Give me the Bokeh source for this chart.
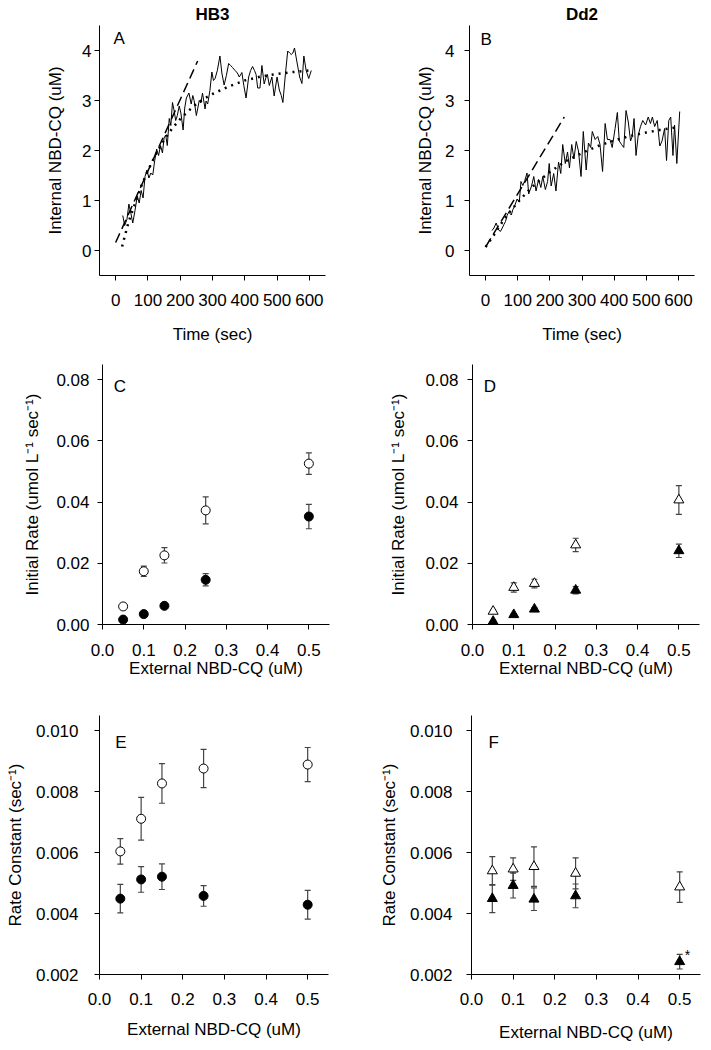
from bokeh.plotting import figure
from bokeh.layouts import column, row
from bokeh.models import (ColumnDataSource, Whisker, TeeHead, Label, FixedTicker,
                          PrintfTickFormatter, Range1d, Title)
from bokeh.embed import file_html
from bokeh.resources import INLINE

FONT = "Liberation Sans"

# ---------------- Panel A (HB3 uptake trace) ----------------
hb3_time = [22, 28, 35, 41, 47, 53, 60, 67, 73, 79, 85, 91, 97, 103, 109, 115, 121, 127, 133,
            139, 145, 150, 155, 160, 166, 171, 176, 181, 186, 191, 197, 202, 209, 214, 219, 227,
            234, 239, 243, 250, 259, 264, 269, 277, 280, 285, 292, 298, 303, 308, 315, 323, 329,
            336, 343, 350, 356, 362, 370, 377, 383, 391, 397, 404, 412, 418, 424, 430, 435, 440,
            447, 453, 460, 465, 470, 476, 484, 491, 500, 507, 513, 518, 526, 533, 539, 544, 549,
            554, 561, 570, 577, 583, 590, 598, 606]
hb3_signal = [0.70, 0.50, 0.62, 0.93, 0.75, 0.55, 0.80, 1.09, 0.95, 1.20, 1.05, 1.48, 1.61, 1.45,
              1.55, 1.51, 1.80, 2.03, 1.90, 2.10, 1.95, 2.25, 2.31, 2.10, 2.64, 2.50, 2.96, 2.80,
              2.60, 2.70, 2.89, 2.75, 2.41, 2.85, 3.05, 3.15, 2.93, 3.10, 3.00, 2.70, 3.00, 2.95,
              3.15, 2.83, 2.99, 2.93, 3.20, 3.57, 3.40, 3.44, 3.60, 3.89, 3.55, 3.31, 3.50, 3.74,
              3.70, 3.66, 3.60, 3.55, 3.47, 3.56, 3.30, 3.05, 3.47, 3.60, 3.68, 3.60, 3.52, 3.25,
              3.25, 3.70, 3.33, 3.45, 3.52, 3.30, 3.47, 3.09, 3.47, 3.21, 3.10, 2.96, 3.54, 3.99,
              3.95, 3.92, 3.95, 4.05, 3.79, 3.47, 3.34, 3.89, 3.60, 3.44, 3.60]
hb3_fit_time = [20, 40, 60, 80, 100, 125, 150, 175, 200, 225, 250, 275, 300, 350, 400, 450, 500, 550, 600]
hb3_fit = [0.08, 0.57, 0.94, 1.30, 1.60, 1.93, 2.21, 2.44, 2.63, 2.79, 2.93, 3.04, 3.13, 3.28,
           3.40, 3.48, 3.53, 3.57, 3.60]
hb3_init_time = [0, 254]
hb3_init = [0.16, 3.79]

# ---------------- Panel B (Dd2 uptake trace) ----------------
dd2_time = [20, 26, 33, 40, 46, 52, 57, 62, 67, 72, 80, 85, 91, 98, 105, 110, 116, 122, 129, 134,
            143, 150, 157, 165, 172, 178, 186, 193, 198, 204, 212, 219, 227, 234, 240, 248, 255,
            261, 268, 275, 282, 289, 297, 304, 313, 320, 327, 332, 341, 349, 356, 364, 372, 379,
            387, 394, 403, 410, 416, 423, 430, 437, 444, 451, 456, 462, 468, 475, 482, 489, 498,
            506, 513, 519, 526, 534, 542, 549, 557, 563, 570, 576, 583, 588, 595, 604]
dd2_signal = [0.40, 0.45, 0.55, 0.42, 0.38, 0.45, 0.52, 0.58, 0.70, 0.77, 0.71, 0.82, 0.90, 1.03,
              0.97, 1.38, 1.30, 1.40, 1.55, 1.13, 1.29, 1.48, 1.19, 1.42, 1.26, 1.48, 1.22, 1.38,
              1.74, 1.29, 1.54, 1.19, 1.77, 1.54, 2.12, 1.74, 1.97, 1.65, 2.12, 1.83, 2.18, 1.99,
              1.48, 2.38, 1.61, 2.15, 2.06, 2.38, 2.22, 2.28, 2.12, 1.58, 2.54, 2.22, 2.22, 2.06,
              2.44, 2.76, 2.19, 2.12, 2.06, 2.80, 2.57, 2.19, 2.28, 2.64, 1.90, 2.31, 2.48, 2.60,
              2.51, 2.67, 2.54, 2.67, 2.48, 2.60, 2.09, 2.19, 2.44, 1.80, 2.60, 2.67, 1.90, 2.51,
              1.74, 2.78]
dd2_fit_time = [0, 25, 50, 75, 100, 125, 150, 175, 200, 250, 300, 350, 400, 450, 500, 550, 600]
dd2_fit = [0.07, 0.30, 0.55, 0.77, 0.96, 1.14, 1.30, 1.44, 1.57, 1.79, 1.95, 2.09, 2.20, 2.29,
           2.36, 2.42, 2.47]
dd2_init_time = [0, 245]
dd2_init = [0.07, 2.67]

# ---------------- Panels C-F ----------------
conc = [0.05, 0.10, 0.15, 0.25, 0.50]

hb3_rate_open = [0.0059, 0.0174, 0.0226, 0.0373, 0.0526]
hb3_rate_open_err = [0.0004, 0.0017, 0.0025, 0.0044, 0.0035]
hb3_rate_filled = [0.0016, 0.0034, 0.0061, 0.0146, 0.0353]
hb3_rate_filled_err = [0.0003, 0.0004, 0.0005, 0.0020, 0.0040]

dd2_rate_open = [0.0043, 0.0121, 0.0134, 0.0260, 0.0407]
dd2_rate_open_err = [0.0004, 0.0015, 0.0014, 0.0022, 0.0047]
dd2_rate_filled = [0.0010, 0.0032, 0.0050, 0.0112, 0.0241]
dd2_rate_filled_err = [0.0003, 0.0004, 0.0005, 0.0012, 0.0022]

hb3_k_open = [0.00604, 0.00711, 0.00827, 0.00876, 0.00889]
hb3_k_open_err = [0.00042, 0.00070, 0.00065, 0.00063, 0.00056]
hb3_k_filled = [0.00449, 0.00512, 0.00521, 0.00458, 0.00429]
hb3_k_filled_err = [0.00047, 0.00042, 0.00042, 0.00034, 0.00047]

dd2_k_open = [0.00540, 0.00546, 0.00554, 0.00532, 0.00487]
dd2_k_open_err = [0.00047, 0.00037, 0.00065, 0.00051, 0.00050]
dd2_k_filled = [0.00449, 0.00492, 0.00447, 0.00458, 0.00242]
dd2_k_filled_err = [0.00046, 0.00041, 0.00037, 0.00039, 0.00024]

time_ticks = [0, 100, 200, 300, 400, 500, 600]
conc_ticks = [0.0, 0.1, 0.2, 0.3, 0.4, 0.5]
rate_ticks = [0.00, 0.02, 0.04, 0.06, 0.08]
k_ticks = [0.002, 0.004, 0.006, 0.008, 0.010]
trace_ticks = [0, 1, 2, 3, 4]

RATE_LABEL = "Initial Rate (umol L\u207b\u00b9 sec\u207b\u00b9)"
K_LABEL = "Rate Constant (sec\u207b\u00b9)"
CONC_LABEL = "External NBD-CQ (uM)"


def make_fig(width, height, bl, br, bt, bb, xr, yr, xticks, yticks, xfmt, yfmt,
             xlabel, ylabel, xls, xals, yls, yals):
    p = figure(width=width, height=height, x_range=Range1d(*xr), y_range=Range1d(*yr),
               output_backend="svg", toolbar_location=None,
               min_border_left=bl, min_border_right=br, min_border_top=bt, min_border_bottom=bb)
    p.outline_line_color = None
    p.grid.visible = False
    p.background_fill_color = "white"
    p.border_fill_color = "white"
    p.xaxis.ticker = FixedTicker(ticks=xticks)
    p.yaxis.ticker = FixedTicker(ticks=yticks)
    if xfmt:
        p.xaxis.formatter = PrintfTickFormatter(format=xfmt)
    if yfmt:
        p.yaxis.formatter = PrintfTickFormatter(format=yfmt)
    p.xaxis.axis_label = xlabel
    p.yaxis.axis_label = ylabel
    for ax in (p.xaxis[0], p.yaxis[0]):
        ax.axis_line_color = "black"
        ax.axis_line_width = 1
        ax.major_tick_line_color = "black"
        ax.major_tick_out = 5
        ax.major_tick_in = 0
        ax.minor_tick_line_color = None
        ax.major_label_text_font = FONT
        ax.major_label_text_font_size = "17px"
        ax.major_label_text_color = "black"
        ax.axis_label_text_font = FONT
        ax.axis_label_text_font_size = "17px"
        ax.axis_label_text_font_style = "normal"
        ax.axis_label_text_color = "black"
    p.xaxis.major_label_standoff = xls
    p.xaxis.axis_label_standoff = xals
    p.yaxis.major_label_standoff = yls
    p.yaxis.axis_label_standoff = yals
    return p


def add_title(p, text, offset):
    p.add_layout(Title(text=text, align="center", text_font=FONT, text_font_size="17px",
                       text_font_style="bold", text_color="black", standoff=4, offset=offset),
                 "above")


def add_letter(p, x, y, text, size="17px", style="normal", align="left"):
    p.add_layout(Label(x=x, y=y, text=text, text_font=FONT, text_font_size=size,
                       text_font_style=style, text_align=align, text_baseline="middle",
                       text_color="black"))


def trace_panel(p, t, s, ft, f, it, iv):
    p.line(t, s, line_color="black", line_width=1)
    p.line(it, iv, line_color="black", line_width=1.5, line_dash="10 5")
    p.line(ft, f, line_color="black", line_width=2.5, line_dash="2 5")


def points(p, x, y, err, marker, filled, size):
    src = ColumnDataSource(dict(x=x, y=y, lower=[a - b for a, b in zip(y, err)],
                                upper=[a + b for a, b in zip(y, err)]))
    w = Whisker(base="x", upper="upper", lower="lower", source=src,
                line_color="#444444", line_width=1.2,
                upper_head=TeeHead(size=6, line_color="#444444", line_width=1.2),
                lower_head=TeeHead(size=6, line_color="#444444", line_width=1.2))
    p.add_layout(w)
    p.scatter("x", "y", source=src, marker=marker, size=size, line_color="black",
              line_width=1, fill_color="black" if filled else "white")


# Row 1 (page y 0-346)
pA = make_fig(360, 346, 99, 35, 24, 63, (-50, 650), (-0.5, 4.5), time_ticks, trace_ticks,
              None, None, "Time (sec)", "Internal NBD-CQ (uM)", 13, 16, 3, 14)
trace_panel(pA, hb3_time, hb3_signal, hb3_fit_time, hb3_fit, hb3_init_time, hb3_init)
add_letter(pA, -7, 4.25, "A")
add_title(pA, "HB3", 0)

pB = make_fig(351, 346, 109, 17, 24, 63, (-50, 650), (-0.5, 4.5), time_ticks, trace_ticks,
              None, None, "Time (sec)", "Internal NBD-CQ (uM)", 13, 16, 10, 7)
trace_panel(pB, dd2_time, dd2_signal, dd2_fit_time, dd2_fit, dd2_init_time, dd2_init)
add_letter(pB, -16, 4.23, "B")
add_title(pB, "Dd2", -18)

# Row 2 (page y 346-690)
pC = make_fig(360, 344, 102, 31, 18, 66, (0, 0.55), (0, 0.085), conc_ticks, rate_ticks,
              "%.1f", "%.2f", CONC_LABEL, RATE_LABEL, 14, 0, 8, 11)
points(pC, conc, hb3_rate_open, hb3_rate_open_err, "circle", False, 9)
points(pC, conc, hb3_rate_filled, hb3_rate_filled_err, "circle", True, 9)
add_letter(pC, 0.027, 0.0777, "C")

pD = make_fig(351, 344, 112, 12, 18, 66, (0, 0.55), (0, 0.085), conc_ticks, rate_ticks,
              "%.1f", "%.2f", CONC_LABEL, RATE_LABEL, 14, 0, 9, 14)
points(pD, conc, dd2_rate_open, dd2_rate_open_err, "triangle", False, 10)
points(pD, conc, dd2_rate_filled, dd2_rate_filled_err, "triangle", True, 10)
add_letter(pD, 0.027, 0.0777, "D")

# Row 3 (page y 690-1048)
pE = make_fig(360, 358, 99, 32, 25, 74, (0, 0.55), (0.002, 0.0105), conc_ticks, k_ticks,
              "%.1f", "%.3f", CONC_LABEL, K_LABEL, 13, 12, 16, 8)
points(pE, conc, hb3_k_open, hb3_k_open_err, "circle", False, 9)
points(pE, conc, hb3_k_filled, hb3_k_filled_err, "circle", True, 9)
add_letter(pE, 0.038, 0.00961, "E")

pF = make_fig(351, 358, 111, 11, 25, 74, (0, 0.55), (0.002, 0.0105), conc_ticks, k_ticks,
              "%.1f", "%.3f", CONC_LABEL, K_LABEL, 13, 15, 14, 8)
points(pF, conc, dd2_k_open, dd2_k_open_err, "triangle", False, 10)
points(pF, conc, dd2_k_filled, dd2_k_filled_err, "triangle", True, 10)
add_letter(pF, 0.041, 0.00961, "F")
add_letter(pF, 0.519, 0.00263, "*", size="14px", align="center")

layout = column(row(pA, pB), row(pC, pD), row(pE, pF))
open("out.html", "w").write(file_html(layout, INLINE))
